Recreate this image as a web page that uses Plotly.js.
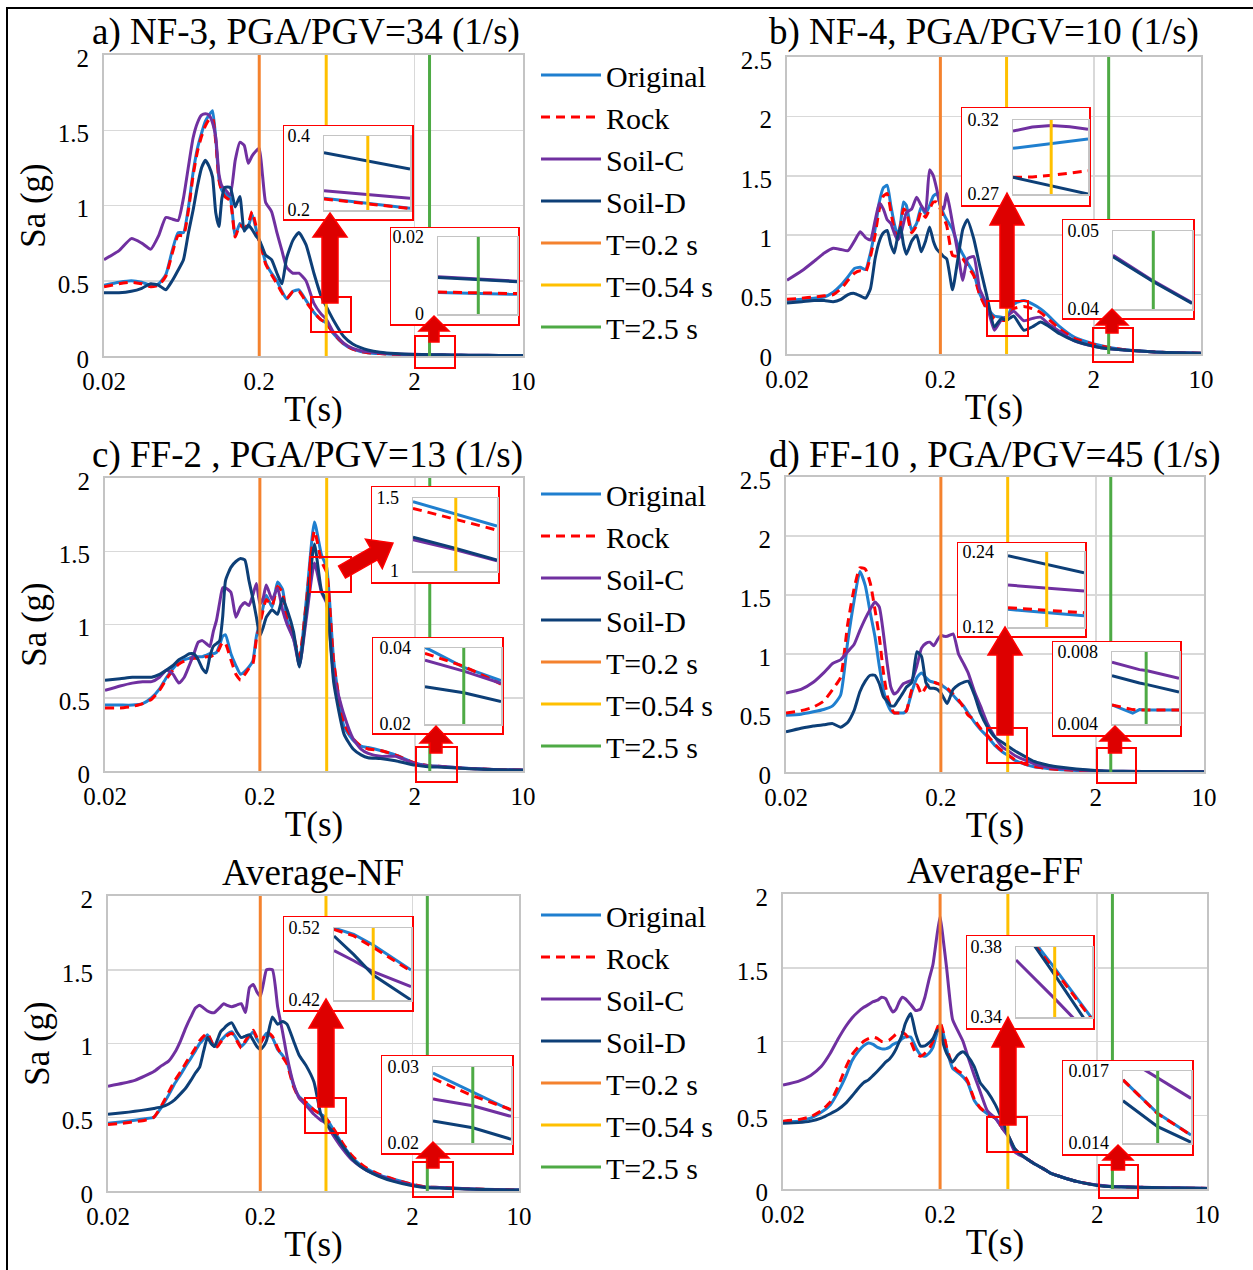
<!DOCTYPE html>
<html><head><meta charset="utf-8">
<script src="https://cdn.plot.ly/plotly-3.0.1.min.js"></script>
<style>html,body{margin:0;padding:0;background:#fff}#chart{width:1253px;height:1270px}</style>
</head><body><div id="chart"></div>
<script>
// ---------------- DATA ----------------
const T = [0.02,0.025,0.03,0.035,0.04,0.045,0.05,0.055,0.06,0.065,
 0.07,0.075,0.08,0.085,0.09,0.095,0.1,0.105,0.11,0.115,
 0.12,0.13,0.14,0.15,0.16,0.17,0.18,0.19,0.2,0.21,
 0.22,0.24,0.26,0.28,0.3,0.33,0.36,0.4,0.45,0.5,
 0.54,0.6,0.7,0.8,0.9,1.0,1.2,1.5,2,2.5,
 3,4,5,7,10];

const seriesNames = ['Original','Rock','Soil-C','Soil-D'];
const markerPeriods = [0.2, 0.54, 2.5];
const markerNames = ['T=0.2 s','T=0.54 s','T=2.5 s'];
const xTickVals = [0.02, 0.2, 2, 10];
const xTickText = ['0.02','0.2','2','10'];

// a) NF-3
const a_original = [0.47,0.49,0.50,0.49,0.47,0.48,0.54,0.70,0.82,0.82,
 0.99,1.22,1.38,1.48,1.56,1.60,1.63,1.44,1.18,1.10,
 1.08,1.05,0.80,0.88,0.84,0.86,0.94,0.85,0.77,0.70,
 0.62,0.55,0.50,0.43,0.38,0.43,0.44,0.37,0.29,0.24,
 0.22,0.15,0.08,0.045,0.03,0.022,0.016,0.011,0.007,0.0055,
 0.0045,0.003,0.0025,0.0018,0.0012];
const a_rock = [0.46,0.48,0.49,0.48,0.46,0.47,0.53,0.68,0.80,0.80,
 0.97,1.20,1.36,1.46,1.53,1.57,1.58,1.42,1.17,1.09,
 1.06,1.03,0.79,0.87,0.85,0.88,0.96,0.87,0.76,0.69,
 0.61,0.54,0.48,0.42,0.38,0.43,0.43,0.36,0.29,0.24,
 0.22,0.15,0.08,0.045,0.03,0.022,0.016,0.011,0.0072,0.0057,
 0.0046,0.003,0.0025,0.0018,0.0012];
const a_soilC = [0.64,0.70,0.78,0.75,0.71,0.80,0.92,0.91,0.90,1.05,
 1.26,1.45,1.55,1.60,1.61,1.60,1.55,1.45,1.21,1.13,
 1.11,1.07,1.30,1.42,1.40,1.28,1.33,1.36,1.38,1.20,
 1.02,0.96,0.82,0.70,0.59,0.55,0.55,0.50,0.35,0.28,
 0.245,0.16,0.085,0.05,0.035,0.028,0.02,0.014,0.011,0.0091,
 0.0085,0.006,0.005,0.0035,0.0025];
const a_soilD = [0.42,0.42,0.43,0.45,0.48,0.47,0.44,0.50,0.57,0.64,
 0.82,0.97,1.13,1.25,1.30,1.26,1.19,0.95,0.86,1.05,
 1.12,1.12,0.99,1.06,0.83,0.87,0.84,0.80,0.77,0.72,
 0.67,0.64,0.55,0.48,0.65,0.77,0.82,0.74,0.55,0.40,
 0.33,0.24,0.13,0.08,0.055,0.04,0.025,0.016,0.0105,0.0090,
 0.0084,0.006,0.005,0.0035,0.0025];

// b) NF-4
const b_original = [0.45,0.46,0.47,0.48,0.52,0.58,0.65,0.72,0.73,0.71,
 0.85,1.05,1.28,1.40,1.42,1.25,1.10,1.00,1.10,1.28,
 1.25,1.04,1.10,1.24,1.18,1.25,1.33,1.35,1.25,1.18,
 1.13,1.05,0.92,0.84,0.77,0.68,0.51,0.40,0.32,0.31,
 0.304,0.42,0.45,0.42,0.38,0.33,0.23,0.14,0.085,0.058,
 0.04,0.025,0.017,0.01,0.006];
const b_rock = [0.46,0.47,0.48,0.49,0.50,0.55,0.62,0.68,0.70,0.69,
 0.82,1.00,1.22,1.33,1.35,1.20,1.05,0.98,1.08,1.22,
 1.20,1.02,1.08,1.20,1.15,1.22,1.28,1.28,1.22,1.15,
 1.08,0.83,0.82,0.80,0.74,0.66,0.50,0.38,0.30,0.285,
 0.282,0.38,0.40,0.38,0.35,0.30,0.21,0.13,0.08,0.055,
 0.04,0.025,0.017,0.01,0.006];
const b_soilC = [0.62,0.70,0.78,0.85,0.89,0.88,0.87,0.95,1.03,0.98,
 0.96,1.12,1.27,1.22,1.13,1.10,1.02,0.96,1.00,1.10,
 1.19,1.22,1.32,1.25,1.20,1.55,1.50,1.38,1.25,1.22,
 1.35,1.10,0.85,0.62,0.80,0.82,0.55,0.42,0.20,0.29,
 0.313,0.36,0.28,0.30,0.31,0.26,0.19,0.11,0.065,0.0436,
 0.036,0.025,0.017,0.01,0.006];
const b_soilD = [0.43,0.44,0.45,0.45,0.44,0.46,0.50,0.51,0.49,0.47,
 0.55,0.80,0.95,1.02,1.04,0.92,0.85,0.98,1.07,0.92,
 0.84,0.95,1.00,0.86,0.95,1.07,0.95,0.88,0.85,0.82,
 0.80,0.54,0.80,1.05,1.13,0.97,0.75,0.50,0.23,0.30,
 0.283,0.32,0.20,0.23,0.27,0.24,0.17,0.11,0.065,0.0435,
 0.036,0.025,0.017,0.01,0.006];

// c) FF-2
const c_original = [0.45,0.45,0.45,0.46,0.50,0.56,0.64,0.70,0.74,0.76,
 0.77,0.78,0.78,0.78,0.79,0.80,0.80,0.81,0.86,0.92,
 0.93,0.80,0.72,0.66,0.68,0.71,0.75,0.92,1.02,1.12,
 1.20,1.12,1.29,1.24,1.03,0.90,0.76,1.18,1.70,1.475,
 1.39,0.75,0.30,0.21,0.17,0.16,0.14,0.11,0.055,0.0355,
 0.0314,0.02,0.015,0.009,0.006];
const c_rock = [0.43,0.43,0.44,0.46,0.49,0.55,0.63,0.69,0.73,0.75,
 0.76,0.77,0.77,0.77,0.78,0.78,0.79,0.80,0.84,0.88,
 0.87,0.76,0.66,0.62,0.66,0.70,0.73,0.90,1.00,1.10,
 1.17,1.13,1.26,1.22,1.02,0.92,0.78,1.16,1.64,1.43,
 1.355,0.74,0.32,0.22,0.17,0.15,0.14,0.11,0.055,0.035,
 0.0305,0.02,0.015,0.009,0.006];
const c_soilC = [0.55,0.58,0.60,0.61,0.61,0.64,0.69,0.66,0.60,0.64,
 0.72,0.80,0.88,0.89,0.87,0.85,0.95,1.03,1.15,1.25,
 1.25,1.22,1.05,1.12,1.15,1.13,1.20,1.28,1.14,1.18,
 1.27,1.17,1.25,1.10,1.00,0.90,0.72,1.05,1.42,1.22,
 1.145,0.65,0.38,0.22,0.15,0.12,0.10,0.10,0.05,0.034,
 0.0307,0.02,0.015,0.009,0.006];
const c_soilD = [0.62,0.63,0.64,0.64,0.64,0.66,0.69,0.72,0.76,0.78,
 0.80,0.80,0.76,0.70,0.67,0.78,0.85,0.87,0.89,1.05,
 1.30,1.39,1.43,1.45,1.44,1.30,1.18,1.05,0.92,0.98,
 1.05,1.10,1.07,1.18,1.10,0.95,0.71,1.10,1.55,1.23,
 1.155,0.60,0.25,0.15,0.11,0.09,0.085,0.07,0.04,0.0278,
 0.0259,0.018,0.013,0.008,0.005];

// d) FF-10
const d_original = [0.48,0.49,0.51,0.53,0.56,0.65,1.10,1.45,1.70,1.58,
 1.35,1.15,0.90,0.70,0.58,0.52,0.50,0.50,0.50,0.50,
 0.52,0.68,0.80,0.84,0.80,0.77,0.76,0.75,0.74,0.72,
 0.70,0.65,0.60,0.56,0.50,0.42,0.36,0.30,0.22,0.17,
 0.142,0.10,0.065,0.045,0.035,0.028,0.02,0.013,0.0065,0.0048,
 0.0048,0.004,0.003,0.002,0.0015];
const d_rock = [0.50,0.52,0.55,0.60,0.70,0.80,1.25,1.55,1.73,1.72,
 1.60,1.38,1.15,0.85,0.65,0.55,0.50,0.50,0.50,0.50,
 0.52,0.70,0.74,0.66,0.72,0.76,0.76,0.75,0.74,0.73,
 0.71,0.66,0.61,0.55,0.48,0.44,0.37,0.31,0.23,0.175,
 0.147,0.105,0.068,0.047,0.036,0.028,0.02,0.013,0.0065,0.0048,
 0.0048,0.004,0.003,0.002,0.0015];
const d_soilC = [0.67,0.70,0.76,0.84,0.92,0.95,1.02,1.08,1.20,1.30,
 1.38,1.44,1.40,1.18,0.92,0.72,0.66,0.68,0.72,0.75,
 0.76,0.78,0.90,1.05,1.09,1.10,1.07,1.12,1.16,1.15,
 1.15,1.17,1.00,0.92,0.84,0.68,0.56,0.41,0.29,0.21,
 0.183,0.14,0.10,0.07,0.05,0.04,0.03,0.02,0.011,0.0070,
 0.0065,0.005,0.004,0.003,0.002];
const d_soilD = [0.34,0.37,0.39,0.40,0.41,0.38,0.42,0.52,0.68,0.77,
 0.82,0.82,0.75,0.64,0.60,0.56,0.56,0.60,0.64,0.68,
 0.72,0.76,1.02,0.98,0.76,0.71,0.71,0.70,0.67,0.62,
 0.58,0.70,0.74,0.76,0.77,0.65,0.50,0.38,0.29,0.25,
 0.22,0.18,0.13,0.09,0.07,0.055,0.04,0.025,0.012,0.0062,
 0.0058,0.0045,0.0035,0.0025,0.0018];

// e) Average-NF
const e_original = [0.46,0.47,0.48,0.49,0.50,0.57,0.65,0.73,0.79,0.85,
 0.90,0.95,1.00,1.03,1.06,1.02,0.98,0.99,1.02,1.04,
 1.06,1.08,1.03,0.98,1.01,1.05,1.08,1.03,1.00,1.04,
 1.07,1.04,0.96,0.92,0.87,0.72,0.64,0.60,0.55,0.52,
 0.496,0.42,0.31,0.23,0.18,0.15,0.11,0.08,0.045,0.027,
 0.0243,0.018,0.014,0.01,0.007];
const e_rock = [0.45,0.46,0.47,0.48,0.50,0.58,0.67,0.75,0.81,0.87,
 0.92,0.97,1.02,1.05,1.07,1.02,0.97,0.98,1.01,1.03,
 1.05,1.07,1.02,0.97,1.02,1.06,1.09,1.04,1.00,1.04,
 1.08,1.05,0.97,0.91,0.86,0.71,0.63,0.60,0.55,0.52,
 0.493,0.43,0.32,0.24,0.19,0.155,0.115,0.08,0.045,0.0265,
 0.0244,0.018,0.014,0.01,0.007];
const e_soilC = [0.71,0.73,0.75,0.78,0.81,0.85,0.88,0.94,1.02,1.11,
 1.18,1.24,1.26,1.24,1.22,1.21,1.21,1.23,1.25,1.27,
 1.26,1.25,1.26,1.27,1.21,1.38,1.40,1.35,1.32,1.41,
 1.50,1.50,1.25,1.08,0.91,0.73,0.63,0.58,0.52,0.48,
 0.459,0.38,0.28,0.21,0.17,0.14,0.105,0.07,0.04,0.025,
 0.0235,0.017,0.013,0.009,0.006];
const e_soilD = [0.52,0.53,0.54,0.55,0.56,0.57,0.59,0.62,0.66,0.70,
 0.75,0.80,0.84,0.95,1.04,1.00,0.98,1.03,1.08,1.10,
 1.12,1.14,1.08,1.04,1.05,1.06,1.02,0.98,0.96,0.98,
 1.02,1.18,1.13,1.15,1.13,1.02,0.92,0.85,0.74,0.52,
 0.455,0.40,0.30,0.22,0.17,0.14,0.10,0.065,0.035,0.0215,
 0.0205,0.015,0.012,0.008,0.006];

// f) Average-FF
const f_original = [0.455,0.46,0.48,0.52,0.57,0.66,0.76,0.87,0.93,0.97,
 0.99,0.98,0.96,0.95,0.95,0.96,0.98,0.99,1.00,1.02,
 1.03,1.03,0.96,0.91,0.90,0.92,0.96,1.05,1.12,1.05,
 0.95,0.82,0.79,0.76,0.72,0.60,0.55,0.51,0.48,0.41,
 0.365,0.27,0.21,0.17,0.14,0.11,0.08,0.05,0.025,0.0153,
 0.0143,0.011,0.008,0.006,0.004];
const f_rock = [0.46,0.47,0.49,0.53,0.59,0.70,0.82,0.91,0.96,1.00,
 1.02,1.03,1.02,1.00,1.00,1.01,1.03,1.05,1.06,1.06,
 1.05,1.00,0.92,0.90,0.92,0.95,1.00,1.08,1.13,1.06,
 0.96,0.84,0.80,0.78,0.73,0.61,0.55,0.51,0.48,0.41,
 0.365,0.27,0.21,0.17,0.14,0.11,0.08,0.05,0.025,0.0153,
 0.0143,0.011,0.008,0.006,0.004];
const f_soilC = [0.705,0.73,0.77,0.83,0.92,1.02,1.10,1.16,1.20,1.23,
 1.25,1.27,1.28,1.30,1.29,1.24,1.20,1.22,1.27,1.30,
 1.29,1.25,1.21,1.22,1.30,1.42,1.52,1.70,1.85,1.68,
 1.50,1.15,1.07,1.00,0.90,0.77,0.66,0.53,0.48,0.41,
 0.36,0.25,0.21,0.17,0.14,0.11,0.08,0.05,0.027,0.0172,
 0.0159,0.012,0.009,0.007,0.005];
const f_soilD = [0.445,0.45,0.46,0.48,0.51,0.54,0.58,0.63,0.68,0.72,
 0.74,0.77,0.80,0.83,0.86,0.88,0.91,0.95,1.00,1.05,
 1.12,1.19,1.05,0.97,0.97,0.99,1.02,1.07,1.08,0.98,
 0.92,0.86,0.91,0.93,0.90,0.83,0.72,0.66,0.57,0.46,
 0.37,0.27,0.21,0.17,0.14,0.11,0.08,0.05,0.024,0.0147,
 0.014,0.011,0.008,0.006,0.004];

// zoomed insets
const a1_T = [0.52,0.54,0.56];
const a1_original = [0.232,0.218,0.205], a1_rock = [0.230,0.217,0.204], a1_soilC = [0.252,0.242,0.232], a1_soilD = [0.355,0.332,0.311];
const a2_T = [2.4,2.5,2.6];
const a2_original = [0.0056,0.0054,0.0051], a2_rock = [0.0057,0.0055,0.0053], a2_soilC = [0.0097,0.0091,0.0085], a2_soilD = [0.0095,0.0090,0.0084];
const b1_T = [0.52,0.53,0.54,0.55,0.56];
const b1_original = [0.3009,0.3025,0.3043,0.3060,0.3072], b1_rock = [0.2813,0.2815,0.2826,0.2843,0.2857], b1_soilC = [0.3125,0.3152,0.3162,0.3155,0.3137], b1_soilD = [0.2813,0.2785,0.2758,0.2728,0.2700];
const b2_T = [2.4,2.5,2.6];
const b2_original = [0.062,0.058,0.054], b2_rock = [0.059,0.055,0.051], b2_soilC = [0.0469,0.0436,0.0408], b2_soilD = [0.0467,0.0435,0.0407];
const c1_T = [0.52,0.54,0.56];
const c1_original = [1.475,1.39,1.308], c1_rock = [1.429,1.355,1.28], c1_soilC = [1.215,1.145,1.07], c1_soilD = [1.231,1.155,1.075];
const c2_T = [2.4,2.5,2.6];
const c2_original = [0.0402,0.0349,0.0314], c2_rock = [0.0386,0.0352,0.0305], c2_soilC = [0.0368,0.0339,0.0307], c2_soilD = [0.0298,0.0282,0.0259];
const d1_T = [0.52,0.54,0.56];
const d1_original = [0.1483,0.1430,0.1381], d1_rock = [0.1509,0.1470,0.1429], d1_soilC = [0.1872,0.1825,0.1776], d1_soilD = [0.2341,0.2205,0.2069];
const d2_T = [2.4,2.46,2.48,2.5,2.6];
const d2_original = [0.00506,0.0046,0.0048,0.00478,0.00478], d2_rock = [0.00506,0.0048,0.00478,0.00478,0.00478], d2_soilC = [0.00743,0.00712,0.00702,0.00697,0.00654], d2_soilD = [0.00668,0.00636,0.00628,0.0062,0.00578];
const e1_T = [0.52,0.53,0.54,0.56];
const e1_original = [0.520,0.511,0.4964,0.4617], e1_rock = [0.518,0.509,0.493,0.460], e1_soilC = [0.4885,0.4745,0.4593,0.4385], e1_soilD = [0.5089,0.483,0.4547,0.4200];
const e2_T = [2.4,2.5,2.6];
const e2_original = [0.0292,0.0267,0.0243], e2_rock = [0.0285,0.0262,0.0244], e2_soilC = [0.0258,0.0249,0.0235], e2_soilD = [0.0229,0.0220,0.0205];
const f1_T = [0.52,0.54,0.56];
const f1_original = [0.3966,0.3679,0.3392], f1_rock = [0.3948,0.3667,0.3385], f1_soilC = [0.3726,0.3505,0.3284], f1_soilD = [0.3959,0.3641,0.3324];
const f2_T = [2.4,2.5,2.6];
const f2_original = [0.01663,0.01524,0.01433], f2_rock = [0.01663,0.01522,0.01433], f2_soilC = [0.0176,0.0167,0.01586], f2_soilD = [0.01576,0.01468,0.01403];

// ---------------- STYLE / LAYOUT ----------------
const W = 1253, H = 1270;
const px = x => x / W, py = y => 1 - y / H;
const FONT = 'Liberation Serif';
const LINE_COLORS = ['#1F7FCF', '#FF0000', '#7030A0', '#0D3F77'];
const MARK_COLORS = ['#F4822E', '#FFC000', '#4EAA45'];
const GRID = '#D9D9D9', FRAME = '#C4C4C4';

const panels = [
  {title:'a) NF-3, PGA/PGV=34 (1/s)', tpos:[306,32], box:[104,523,55,356], ymax:2, s:[a_original,a_rock,a_soilC,a_soilD], legend:'legend', ytitle:true},
  {title:'b) NF-4, PGA/PGV=10 (1/s)', tpos:[984,32], box:[787,1201,57,354], ymax:2.5, s:[b_original,b_rock,b_soilC,b_soilD], legend:null, ytitle:false},
  {title:'c) FF-2 , PGA/PGV=13 (1/s)', tpos:[307,455], box:[105,523,478,771], ymax:2, s:[c_original,c_rock,c_soilC,c_soilD], legend:'legend2', ytitle:true},
  {title:'d) FF-10 , PGA/PGV=45 (1/s)', tpos:[995,455], box:[786,1204,477,772], ymax:2.5, s:[d_original,d_rock,d_soilC,d_soilD], legend:null, ytitle:false},
  {title:'Average-NF', tpos:[313,872], box:[108,519,896,1191], ymax:2, s:[e_original,e_rock,e_soilC,e_soilD], legend:'legend3', ytitle:true},
  {title:'Average-FF', tpos:[995,870], box:[783,1207,894,1189], ymax:2, s:[f_original,f_rock,f_soilC,f_soilD], legend:null, ytitle:false}
];

const insets = [
  {p:0, box:[284,412,126,219], inner:[324,410,136,210], xr:[0.52,0.56], yr:[0.2,0.4], lab:['0.2','0.4'], T:a1_T, s:[a1_original,a1_rock,a1_soilC,a1_soilD], m:1, mark:[311,351,297,332], arrow:{tip:[330,213],hb:237,hh:17,sh:8,bottom:303}},
  {p:0, box:[391,518,228,324], inner:[438,517,237,314], xr:[2.4,2.6], yr:[0,0.02], lab:['0','0.02'], T:a2_T, s:[a2_original,a2_rock,a2_soilC,a2_soilD], m:2, mark:[415,455,336,368], arrow:{tip:[434,316],hb:331,hh:15,sh:5,bottom:342}},
  {p:1, box:[962,1089,108,205], inner:[1013,1088,120,194], xr:[0.52,0.56], yr:[0.27,0.32], lab:['0.27','0.32'], T:b1_T, s:[b1_original,b1_rock,b1_soilC,b1_soilD], m:1, mark:[987,1028,301,336], arrow:{tip:[1007,193],hb:225,hh:17,sh:7,bottom:308}},
  {p:1, box:[1063,1193,220,318], inner:[1113,1192,231,309], xr:[2.4,2.6], yr:[0.04,0.05], lab:['0.04','0.05'], T:b2_T, s:[b2_original,b2_rock,b2_soilC,b2_soilD], m:2, mark:[1093,1133,328,362], arrow:{tip:[1112,309],hb:325,hh:16,sh:6,bottom:333}},
  {p:2, box:[372,498,487,582], inner:[413,497,498,571], xr:[0.52,0.56], yr:[1,1.5], lab:['1','1.5'], T:c1_T, s:[c1_original,c1_rock,c1_soilC,c1_soilD], m:1, mark:[310,351,557,592], diag:{from:[342,572],tip:[393,543],hl:22,hh:17,sh:7}},
  {p:2, box:[373,502,638,733], inner:[425,501,648,724], xr:[2.4,2.6], yr:[0.02,0.04], lab:['0.02','0.04'], T:c2_T, s:[c2_original,c2_rock,c2_soilC,c2_soilD], m:2, mark:[416,457,747,782], arrow:{tip:[436,726],hb:743,hh:16,sh:6,bottom:753}},
  {p:3, box:[958,1085,543,636], inner:[1008,1084,552,627], xr:[0.52,0.56], yr:[0.12,0.24], lab:['0.12','0.24'], T:d1_T, s:[d1_original,d1_rock,d1_soilC,d1_soilD], m:1, mark:[987,1027,728,763], arrow:{tip:[1005,627],hb:655,hh:17,sh:8,bottom:735}},
  {p:3, box:[1053,1180,642,735], inner:[1112,1179,652,724], xr:[2.4,2.6], yr:[0.004,0.008], lab:['0.004','0.008'], T:d2_T, s:[d2_original,d2_rock,d2_soilC,d2_soilD], m:2, mark:[1097,1136,748,783], arrow:{tip:[1115,726],hb:741,hh:15,sh:6.5,bottom:753}},
  {p:4, box:[284,412,917,1010], inner:[334,411,928,1000], xr:[0.52,0.56], yr:[0.42,0.52], lab:['0.42','0.52'], T:e1_T, s:[e1_original,e1_rock,e1_soilC,e1_soilD], m:1, mark:[305,346,1098,1133], arrow:{tip:[326,999],hb:1028,hh:17,sh:8,bottom:1107}},
  {p:4, box:[382,512,1056,1153], inner:[433,511,1067,1143], xr:[2.4,2.6], yr:[0.02,0.03], lab:['0.02','0.03'], T:e2_T, s:[e2_original,e2_rock,e2_soilC,e2_soilD], m:2, mark:[413,453,1162,1197], arrow:{tip:[433,1142],hb:1158,hh:16,sh:6,bottom:1168}},
  {p:5, box:[967,1093,936,1028], inner:[1016,1092,947,1017], xr:[0.52,0.56], yr:[0.34,0.38], lab:['0.34','0.38'], T:f1_T, s:[f1_original,f1_rock,f1_soilC,f1_soilD], m:1, mark:[987,1027,1117,1152], arrow:{tip:[1008,1017],hb:1047,hh:16,sh:8,bottom:1125}},
  {p:5, box:[1063,1192,1061,1154], inner:[1123,1191,1071,1143], xr:[2.4,2.6], yr:[0.014,0.017], lab:['0.014','0.017'], T:f2_T, s:[f2_original,f2_rock,f2_soilC,f2_soilD], m:2, mark:[1099,1138,1165,1198], arrow:{tip:[1118,1145],hb:1160,hh:15,sh:6.5,bottom:1170}}
];

const axKey = (l, n) => l + 'axis' + (n === 1 ? '' : n);
const axRef = (l, n) => l + (n === 1 ? '' : n);

const traces = [];
const layout = {
  width: W, height: H, margin: {l:0, r:0, t:0, b:0},
  paper_bgcolor: '#fff', plot_bgcolor: '#fff',
  font: {family: FONT, color: '#000'},
  showlegend: true, hovermode: false,
  annotations: [], shapes: []
};

function lineStyle(i, w, smooth) {
  const st = {color: LINE_COLORS[i], width: w};
  if (i === 1) st.dash = '9px,6px';
  if (smooth) { st.shape = 'spline'; st.smoothing = 0.5; }
  return st;
}

// main panels
panels.forEach((P, k) => {
  const n = k + 1;
  const [L, R, Tp, B] = P.box;
  layout[axKey('x', n)] = {
    type: 'log', range: [Math.log10(0.02), 1], domain: [px(L), px(R)], anchor: axRef('y', n),
    tickvals: xTickVals, ticktext: xTickText, tickfont: {family: FONT, size: 25, color: '#000'},
    ticks: '', ticklabelstandoff: 2, showgrid: true, gridcolor: GRID, gridwidth: 1.5, zeroline: false,
    showline: true, mirror: true, linecolor: FRAME, linewidth: 2, fixedrange: true,
    title: {text: 'T(s)', font: {family: FONT, size: 35, color: '#000'}, standoff: 2}
  };
  const ya = {
    range: [0, P.ymax], tick0: 0, dtick: 0.5, domain: [py(B), py(Tp)], anchor: axRef('x', n),
    tickfont: {family: FONT, size: 25, color: '#000'}, ticks: '', ticklabelstandoff: 8, ticklabelshift: 3,
    showgrid: true, gridcolor: GRID, gridwidth: 1.5, zeroline: false,
    showline: true, mirror: true, linecolor: FRAME, linewidth: 2, fixedrange: true
  };
  if (P.ytitle) ya.title = {text: 'Sa (g)', font: {family: FONT, size: 35, color: '#000'}, standoff: 2};
  layout[axKey('y', n)] = ya;

  P.s.forEach((vals, i) => {
    const tr = {type: 'scatter', mode: 'lines', x: T, y: vals, name: seriesNames[i],
      xaxis: axRef('x', n), yaxis: axRef('y', n), line: lineStyle(i, 3, true), showlegend: !!P.legend};
    if (P.legend) tr.legend = P.legend;
    traces.push(tr);
  });
  markerPeriods.forEach((tm, i) => {
    const tr = {type: 'scatter', mode: 'lines', x: [tm, tm], y: [0, P.ymax], name: markerNames[i],
      xaxis: axRef('x', n), yaxis: axRef('y', n), line: {color: MARK_COLORS[i], width: 3}, showlegend: !!P.legend};
    if (P.legend) tr.legend = P.legend;
    traces.push(tr);
  });
  layout.annotations.push({text: P.title, xref: 'paper', yref: 'paper', x: px(P.tpos[0]), y: py(P.tpos[1]),
    xanchor: 'center', yanchor: 'middle', showarrow: false, font: {family: FONT, size: 37, color: '#000'}});
});

// legends
const legendBase = {xanchor: 'left', yanchor: 'top', bgcolor: 'rgba(0,0,0,0)', borderwidth: 0,
  font: {family: FONT, size: 30, color: '#000'}, itemwidth: 60, traceorder: 'normal'};
layout.legend = Object.assign({}, legendBase, {x: px(536), y: py(49)});
layout.legend2 = Object.assign({}, legendBase, {x: px(536), y: py(468)});
layout.legend3 = Object.assign({}, legendBase, {x: px(536), y: py(889)});

// helpers for shapes
const pt = p => px(p[0]).toFixed(5) + ',' + py(p[1]).toFixed(5);
const pathOf = pts => 'M' + pts.map(pt).join('L') + 'Z';
const ARROW = {type: 'path', xref: 'paper', yref: 'paper', fillcolor: '#DD0000', line: {color: '#FF0000', width: 1.5}, layer: 'above'};

// insets
insets.forEach((S, j) => {
  const nc = 7 + 2 * j, ni = 8 + 2 * j;
  // red framed white card (its own subplot so its white background hides the panel beneath)
  layout[axKey('x', nc)] = {domain: [px(S.box[0]), px(S.box[1])], range: [0, 1], anchor: axRef('y', nc),
    showgrid: false, zeroline: false, showticklabels: false, ticks: '', showline: true, mirror: true,
    linecolor: '#FF0000', linewidth: 1.5, fixedrange: true};
  layout[axKey('y', nc)] = {domain: [py(S.box[3]), py(S.box[2])], range: [0, 1], anchor: axRef('x', nc),
    showgrid: false, zeroline: false, showticklabels: false, ticks: '', showline: true, mirror: true,
    linecolor: '#FF0000', linewidth: 1.5, fixedrange: true};
  traces.push({type: 'scatter', mode: 'lines', x: [], y: [], showlegend: false, hoverinfo: 'skip',
    xaxis: axRef('x', nc), yaxis: axRef('y', nc)});
  // zoomed plot
  layout[axKey('x', ni)] = {type: 'log', domain: [px(S.inner[0]), px(S.inner[1])],
    range: [Math.log10(S.xr[0]), Math.log10(S.xr[1])], anchor: axRef('y', ni),
    showgrid: false, zeroline: false, showticklabels: false, ticks: '', showline: true, mirror: true,
    linecolor: FRAME, linewidth: 1.5, fixedrange: true};
  layout[axKey('y', ni)] = {domain: [py(S.inner[3]), py(S.inner[2])], range: S.yr, anchor: axRef('x', ni),
    tickvals: S.yr, ticktext: S.lab, tickfont: {family: FONT, size: 18, color: '#000'}, ticks: '', ticklabelstandoff: 9,
    showgrid: true, gridcolor: GRID, zeroline: false, showline: true, mirror: true,
    linecolor: FRAME, linewidth: 1.5, fixedrange: true};
  S.s.forEach((vals, i) => {
    traces.push({type: 'scatter', mode: 'lines', x: S.T, y: vals, name: seriesNames[i], showlegend: false,
      xaxis: axRef('x', ni), yaxis: axRef('y', ni), line: lineStyle(i, 3, false)});
  });
  const tm = markerPeriods[S.m];
  traces.push({type: 'scatter', mode: 'lines', x: [tm, tm], y: S.yr, name: markerNames[S.m], showlegend: false,
    xaxis: axRef('x', ni), yaxis: axRef('y', ni), line: {color: MARK_COLORS[S.m], width: 3}});

  // box marking the zoomed region
  layout.shapes.push({type: 'rect', xref: 'paper', yref: 'paper', x0: px(S.mark[0]), x1: px(S.mark[1]),
    y0: py(S.mark[3]), y1: py(S.mark[2]), line: {color: '#FF0000', width: 2}, fillcolor: 'rgba(0,0,0,0)', layer: 'above'});
  // arrow
  if (S.arrow) {
    const a = S.arrow, tx = a.tip[0], ty = a.tip[1];
    const pts = [[tx, ty], [tx + a.hh, a.hb], [tx + a.sh, a.hb], [tx + a.sh, a.bottom], [tx - a.sh, a.bottom], [tx - a.sh, a.hb], [tx - a.hh, a.hb]];
    layout.shapes.push(Object.assign({}, ARROW, {path: pathOf(pts)}));
  } else if (S.diag) {
    const d = S.diag; const dx = d.tip[0] - d.from[0], dy = d.tip[1] - d.from[1];
    const len = Math.hypot(dx, dy); const ux = dx / len, uy = dy / len; const nx = -uy, ny = ux;
    const bx = d.tip[0] - ux * d.hl, by = d.tip[1] - uy * d.hl;
    const pts = [d.tip, [bx + nx * d.hh, by + ny * d.hh], [bx + nx * d.sh, by + ny * d.sh],
      [d.from[0] + nx * d.sh, d.from[1] + ny * d.sh], [d.from[0] - nx * d.sh, d.from[1] - ny * d.sh],
      [bx - nx * d.sh, by - ny * d.sh], [bx - nx * d.hh, by - ny * d.hh]];
    layout.shapes.push(Object.assign({}, ARROW, {path: pathOf(pts)}));
  }
});

// outer frame of the figure
layout.shapes.push({type: 'rect', xref: 'paper', yref: 'paper', x0: px(7), x1: px(1300), y0: py(1320), y1: py(8),
  line: {color: '#000', width: 2}, fillcolor: 'rgba(0,0,0,0)', layer: 'above'});

Plotly.newPlot('chart', traces, layout, {staticPlot: true, displayModeBar: false});
</script>
</body></html>
